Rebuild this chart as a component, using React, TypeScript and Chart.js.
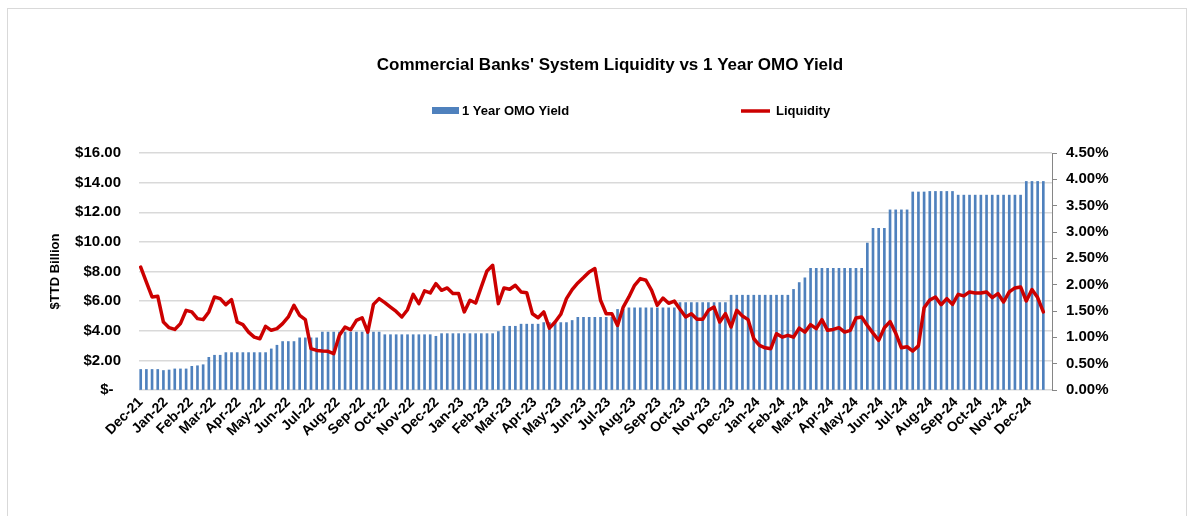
import React, { useEffect, useRef } from 'react';
import { Chart, registerables } from 'chart.js';

Chart.register(...registerables);

const TITLE = "Commercial Banks' System Liquidity vs 1 Year OMO Yield";
const SERIES_OMO = '1 Year OMO Yield';
const SERIES_LIQ = 'Liquidity';
const Y_TITLE = '$TTD Billion';

// weekly observations, first one on 3 Dec 2021
const START_YEAR = 2021;
const START_MONTH = 11; // December (0-based)
const START_DAY = 3;

const monthLabels = [
  'Dec-21', 'Jan-22', 'Feb-22', 'Mar-22', 'Apr-22', 'May-22', 'Jun-22', 'Jul-22', 'Aug-22', 'Sep-22', 'Oct-22', 'Nov-22',
  'Dec-22', 'Jan-23', 'Feb-23', 'Mar-23', 'Apr-23', 'May-23', 'Jun-23', 'Jul-23', 'Aug-23', 'Sep-23', 'Oct-23', 'Nov-23',
  'Dec-23', 'Jan-24', 'Feb-24', 'Mar-24', 'Apr-24', 'May-24', 'Jun-24', 'Jul-24', 'Aug-24', 'Sep-24', 'Oct-24', 'Nov-24',
  'Dec-24',
];

// 1 Year OMO Yield (%), one value per week
const omoYield = [
  0.39, 0.39, 0.39, 0.39, 0.37, 0.38, 0.40, 0.40, 0.40, 0.45,
  0.46, 0.48, 0.62, 0.66, 0.66, 0.71, 0.71, 0.71, 0.71, 0.71,
  0.71, 0.71, 0.71, 0.78, 0.85, 0.92, 0.92, 0.92, 0.99, 0.99,
  0.99, 0.99, 1.10, 1.10, 1.10, 1.10, 1.10, 1.10, 1.10, 1.10,
  1.10, 1.10, 1.10, 1.05, 1.05, 1.05, 1.05, 1.05, 1.05, 1.05,
  1.05, 1.05, 1.02, 1.07, 1.07, 1.07, 1.07, 1.07, 1.07, 1.07,
  1.07, 1.07, 1.07, 1.11, 1.21, 1.21, 1.21, 1.25, 1.25, 1.25,
  1.25, 1.28, 1.28, 1.28, 1.28, 1.28, 1.32, 1.38, 1.38, 1.38,
  1.38, 1.38, 1.38, 1.38, 1.53, 1.53, 1.56, 1.56, 1.56, 1.56,
  1.56, 1.56, 1.56, 1.56, 1.56, 1.66, 1.66, 1.66, 1.66, 1.66,
  1.66, 1.66, 1.66, 1.66, 1.80, 1.80, 1.80, 1.80, 1.80, 1.80,
  1.80, 1.80, 1.80, 1.80, 1.80, 1.91, 2.04, 2.13, 2.31, 2.31,
  2.31, 2.31, 2.31, 2.31, 2.31, 2.31, 2.31, 2.31, 2.79, 3.07,
  3.07, 3.07, 3.42, 3.42, 3.42, 3.42, 3.76, 3.76, 3.76, 3.77,
  3.77, 3.77, 3.77, 3.77, 3.70, 3.70, 3.70, 3.70, 3.70, 3.70,
  3.70, 3.70, 3.70, 3.70, 3.70, 3.70, 3.96, 3.96, 3.96, 3.96,
];

// Liquidity ($TTD billion), one value per week
const liquidity = [
  8.30, 7.29, 6.28, 6.33, 4.59, 4.21, 4.09, 4.48, 5.38, 5.27,
  4.82, 4.75, 5.27, 6.28, 6.17, 5.76, 6.10, 4.59, 4.41, 3.91,
  3.57, 3.46, 4.30, 4.03, 4.14, 4.48, 4.93, 5.72, 5.04, 4.75,
  2.79, 2.67, 2.63, 2.61, 2.45, 3.69, 4.25, 4.07, 4.70, 4.88,
  3.91, 5.78, 6.17, 5.90, 5.60, 5.30, 4.93, 5.42, 6.46, 5.83,
  6.69, 6.55, 7.18, 6.73, 6.89, 6.51, 6.51, 5.27, 6.06, 5.87,
  6.96, 8.04, 8.42, 5.83, 6.89, 6.80, 7.07, 6.62, 6.57, 5.15,
  4.88, 5.27, 4.18, 4.59, 5.11, 6.17, 6.78, 7.23, 7.59, 7.97,
  8.20, 6.06, 5.15, 5.15, 4.36, 5.60, 6.28, 7.07, 7.52, 7.41,
  6.73, 5.72, 6.21, 5.85, 6.00, 5.45, 4.93, 5.15, 4.77, 4.77,
  5.38, 5.60, 4.59, 5.15, 4.25, 5.38, 4.99, 4.75, 3.46, 3.01,
  2.85, 2.79, 3.80, 3.57, 3.69, 3.57, 4.18, 3.91, 4.41, 4.14,
  4.75, 4.03, 4.09, 4.21, 3.91, 4.03, 4.86, 4.93, 4.36, 3.84,
  3.35, 4.20, 4.62, 3.84, 2.85, 2.92, 2.63, 2.98, 5.55, 6.08,
  6.28, 5.76, 6.17, 5.78, 6.46, 6.35, 6.62, 6.55, 6.55, 6.62,
  6.24, 6.51, 5.94, 6.62, 6.89, 6.96, 6.01, 6.78, 6.24, 5.27,
];

const leftTicks = { min: 0, max: 16, step: 2 };
const rightTicks = { min: 0, max: 4.5, step: 0.5 };

const FONT = "'Liberation Sans', Arial, Helvetica, sans-serif";
const BAR_COLOR = '#4F81BD';
const LINE_COLOR = '#CC0000';
const GRID_COLOR = '#D9D9D9';
const AXIS_COLOR = '#868686';

const WEEK_MS = 7 * 24 * 3600 * 1000;
const startMs = Date.UTC(START_YEAR, START_MONTH, START_DAY);
// position (in weeks) of each monthly label on the date axis
const monthTickValues = monthLabels.map(
  (_, k) => (Date.UTC(START_YEAR, START_MONTH + k, START_DAY) - startMs) / WEEK_MS
);

const decorPlugin = {
  id: 'decor',
  afterDraw(chart: any) {
    const ctx = chart.ctx as CanvasRenderingContext2D;
    ctx.save();
    ctx.strokeStyle = GRID_COLOR;
    ctx.lineWidth = 1;
    ctx.strokeRect(7.5, 8.5, 1179, 530);

    ctx.fillStyle = '#000';
    ctx.font = `bold 17px ${FONT}`;
    ctx.textAlign = 'center';
    ctx.textBaseline = 'middle';
    ctx.fillText(TITLE, 610, 65);

    ctx.font = `bold 13px ${FONT}`;
    ctx.textAlign = 'left';
    ctx.fillStyle = BAR_COLOR;
    ctx.fillRect(432, 107, 27, 7);
    ctx.fillStyle = '#000';
    ctx.fillText(SERIES_OMO, 462, 111);

    ctx.strokeStyle = LINE_COLOR;
    ctx.lineWidth = 3.5;
    ctx.beginPath();
    ctx.moveTo(741, 111);
    ctx.lineTo(770, 111);
    ctx.stroke();
    ctx.fillText(SERIES_LIQ, 776, 111);
    ctx.restore();
  },
};

export default function App() {
  const canvasRef = useRef<HTMLCanvasElement | null>(null);

  useEffect(() => {
    if (!canvasRef.current) return;
    const chart = new Chart(canvasRef.current, {
      type: 'bar',
      data: {
        datasets: [
          {
            type: 'line',
            label: SERIES_LIQ,
            data: liquidity.map((y, i) => ({ x: i, y })),
            yAxisID: 'y',
            borderColor: LINE_COLOR,
            borderWidth: 3.5,
            pointRadius: 0,
            tension: 0,
            borderJoinStyle: 'round',
            borderCapStyle: 'round',
            order: 0,
          } as any,
          {
            type: 'bar',
            label: SERIES_OMO,
            data: omoYield.map((y, i) => ({ x: i, y })),
            yAxisID: 'y1',
            backgroundColor: BAR_COLOR,
            borderWidth: 0,
            barThickness: 2,
            order: 1,
          } as any,
        ],
      },
      options: {
        animation: false,
        responsive: true,
        maintainAspectRatio: false,
        events: [],
        layout: { padding: { top: 153, left: 0, right: 0, bottom: 0 } },
        plugins: {
          legend: { display: false },
          title: { display: false },
          tooltip: { enabled: false },
        },
        scales: {
          x: {
            type: 'linear',
            offset: false,
            min: -0.3,
            max: 160.53,
            afterBuildTicks: (s: any) => {
              s.ticks = monthTickValues.map((v) => ({ value: v }));
            },
            afterFit: (s: any) => {
              s.height = 126;
            },
            grid: { display: false, drawTicks: false },
            border: { display: false },
            ticks: {
              autoSkip: false,
              minRotation: 45,
              maxRotation: 45,
              padding: 4,
              color: '#000',
              font: { family: FONT, size: 14, weight: 'bold' },
              callback: (_v: any, i: number) => monthLabels[i],
            },
          },
          y: {
            type: 'linear',
            position: 'left',
            min: leftTicks.min,
            max: leftTicks.max,
            afterFit: (s: any) => {
              s.width = 139;
            },
            grid: { color: GRID_COLOR, lineWidth: 1.5, drawTicks: false },
            border: { display: false },
            ticks: {
              stepSize: leftTicks.step,
              padding: 18,
              color: '#000',
              font: { family: FONT, size: 15, weight: 'bold' },
              callback: (v: any) => (Number(v) === 0 ? '$-\u2002' : '$' + Number(v).toFixed(2)),
            },
            title: {
              display: true,
              text: Y_TITLE,
              color: '#000',
              font: { family: FONT, size: 13, weight: 'bold' },
              padding: { top: 48, bottom: 0 },
            },
          },
          y1: {
            type: 'linear',
            position: 'right',
            min: rightTicks.min,
            max: rightTicks.max,
            afterFit: (s: any) => {
              s.width = 142;
            },
            grid: {
              drawOnChartArea: false,
              drawTicks: true,
              tickLength: 5,
              tickColor: AXIS_COLOR,
              lineWidth: 1,
            },
            border: { display: true, color: AXIS_COLOR, width: 1 },
            ticks: {
              stepSize: rightTicks.step,
              padding: 9,
              color: '#000',
              font: { family: FONT, size: 15, weight: 'bold' },
              callback: (v: any) => Number(v).toFixed(2) + '%',
            },
          },
        },
      } as any,
      plugins: [decorPlugin],
    });
    return () => chart.destroy();
  }, []);

  return (
    <div style={{ position: 'fixed', left: 0, top: 0, width: 1194, height: 516, background: '#fff' }}>
      <canvas ref={canvasRef} />
    </div>
  );
}
